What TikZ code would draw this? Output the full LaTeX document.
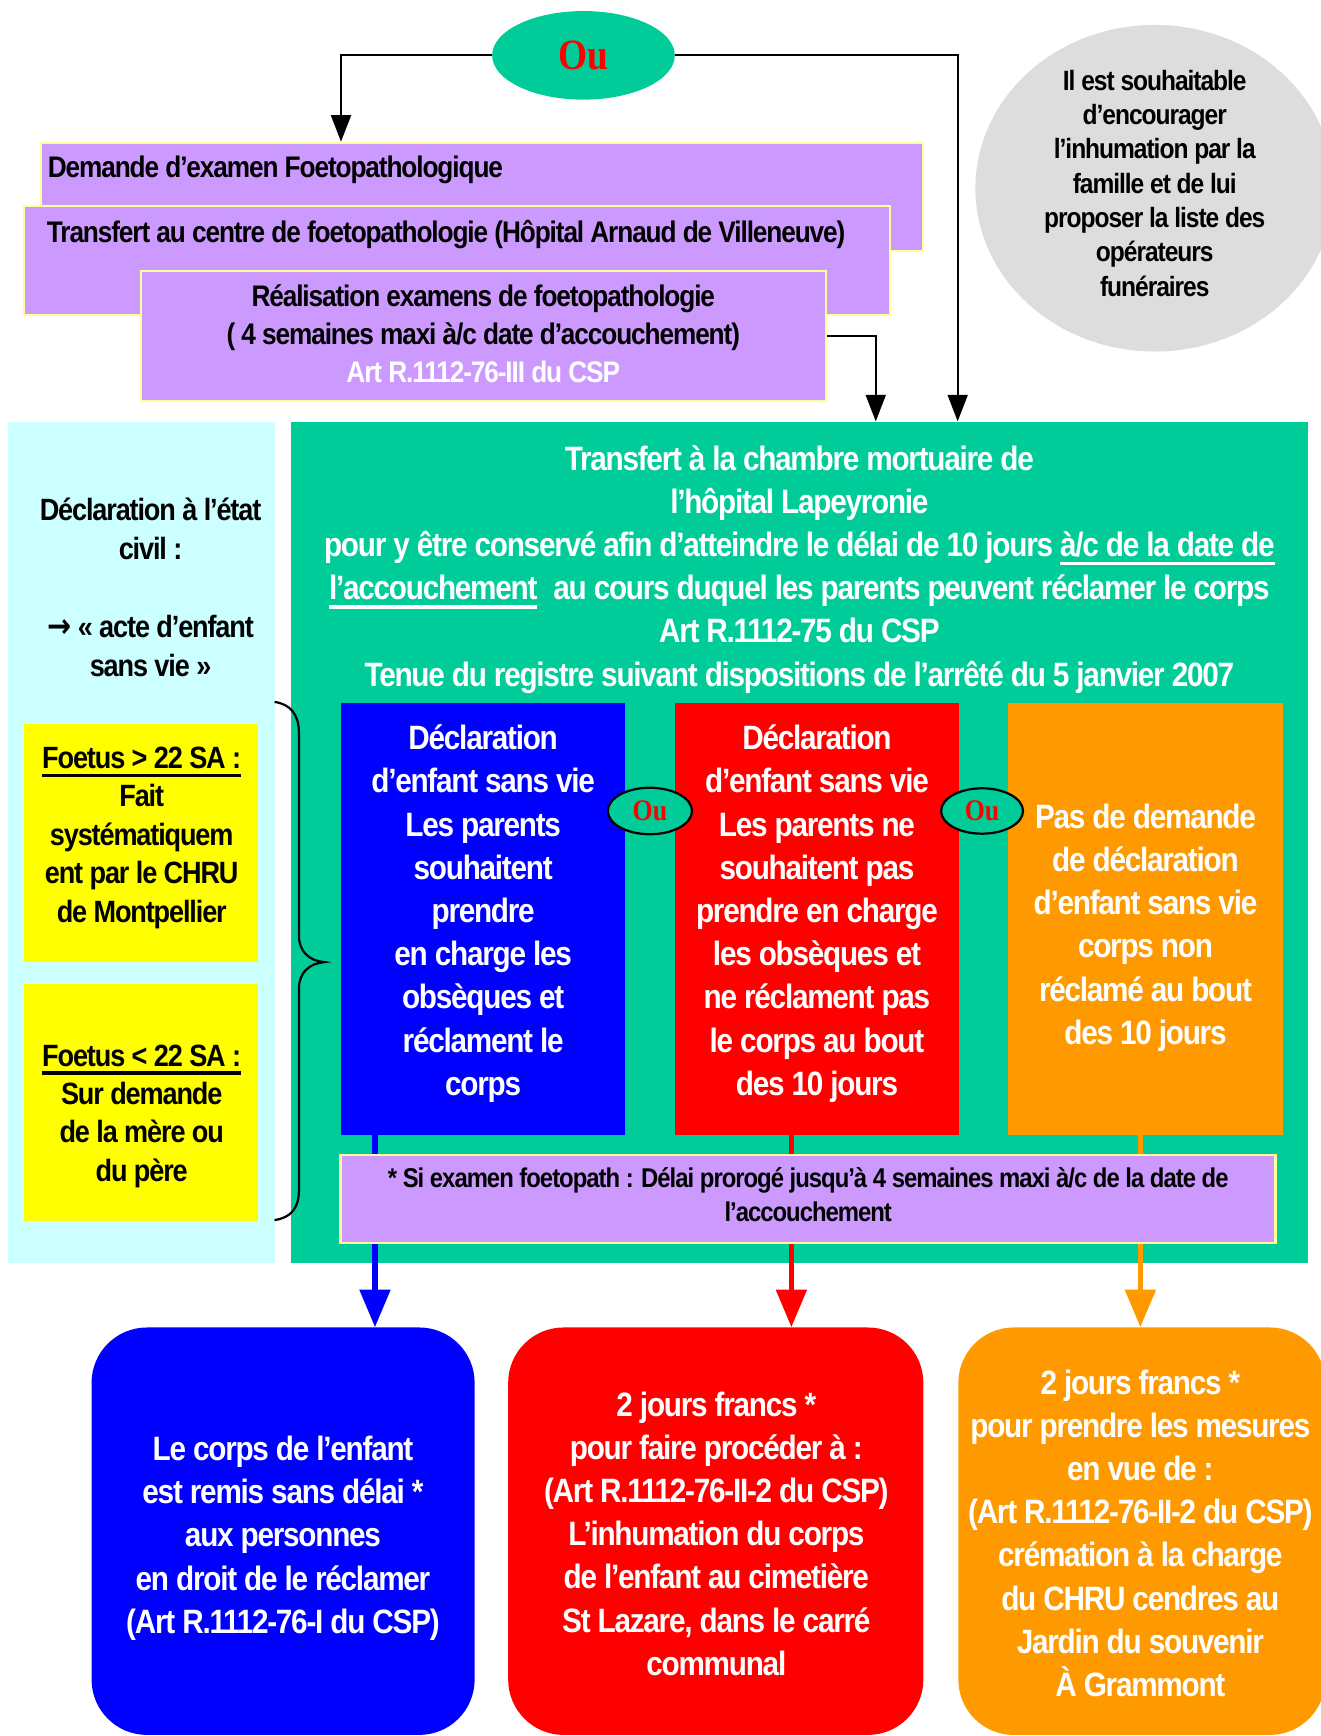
\documentclass[tikz,border=0pt]{standalone}
\usepackage{fontspec}
\setmainfont{Liberation Sans}[FakeStretch=0.88,LetterSpace=-3.7]
\newfontfamily\oufont{Liberation Serif}[FakeStretch=0.866]
\newfontfamily\arrowfont{DejaVu Sans}[FakeStretch=0.866]
\usetikzlibrary{arrows.meta,shapes.geometric,fit}
\definecolor{cgreen}{HTML}{00CC99}
\definecolor{ccyan}{HTML}{CCFFFF}
\definecolor{clav}{HTML}{CC99FF}
\definecolor{cborder}{HTML}{FFFF99}
\definecolor{cyellow}{HTML}{FFFF00}
\definecolor{cblue}{HTML}{0000FF}
\definecolor{cred}{HTML}{FF0000}
\definecolor{corange}{HTML}{FF9900}
\definecolor{cgray}{HTML}{DDDDDD}
\newsavebox\ulbox
\newcommand\myul[1]{\sbox\ulbox{#1}\rlap{\rule[-8pt]{\wd\ulbox}{3.5pt}}\usebox\ulbox}
\begin{document}
\begin{tikzpicture}[x=1pt,y=1pt,
  lav/.style={rectangle, draw=cborder, line width=2pt, fill=clav, inner sep=0pt},
  panel/.style={rectangle, inner sep=0pt, draw=none},
  rbox/.style={rectangle, rounded corners=50pt, inner sep=0pt, draw=none},
  ouell/.style={ellipse, fill=cgreen, inner sep=0pt, text=cred, font=\oufont\bfseries\fontsize{39}{39}\selectfont},
  smallou/.style={ellipse, fill=cgreen, draw=black, line width=2pt, inner sep=0pt, text=cred, font=\oufont\bfseries\fontsize{27}{27}\selectfont},
  bigtxt/.style={font=\fontsize{30.5}{39}\selectfont\bfseries, text=white, align=center, inner sep=0pt, anchor=north},
  toptxt/.style={font=\fontsize{26.9}{34}\selectfont\bfseries, text=black, align=center, inner sep=0pt},
  cyantxt/.style={font=\fontsize{27.8}{35.3}\selectfont\bfseries, text=black, align=center, inner sep=0pt, anchor=north},
  yeltxt/.style={font=\fontsize{27.8}{34.7}\selectfont\bfseries, text=black, align=center, inner sep=0pt, anchor=north},
  graytxt/.style={font=\fontsize{25.2}{31}\selectfont\bfseries, text=black, align=center, inner sep=0pt, anchor=north},
  fntxt/.style={font=\fontsize{24.5}{30.5}\selectfont\bfseries, text=black, align=center, inner sep=0pt, anchor=north},
  conn/.style={draw=black, line width=2pt, -{Triangle[length=24pt,width=18pt]}},
  colarr/.style={draw=#1, line width=5pt, -{Triangle[length=34pt,width=27pt]}}
]
\useasboundingbox (0,0) rectangle (1193,-1568);
\clip (0,0) rectangle (1193,-1568);
\fill[white] (0,0) rectangle (1193,-1568);

% top "Ou" and gray note
\node[ouell, minimum width=165pt, minimum height=80pt] (ou) at (527,-50) {Ou};
\node[ellipse, fill=cgray, inner sep=0pt, minimum width=324pt, minimum height=295pt] (note) at (1043,-170) {};
\node[graytxt] (notetxt) at (1043,-59.6) {\strut Il est souhaitable\\d’encourager\\l’inhumation par la\\famille et de lui\\proposer la liste des\\opérateurs\\funéraires\strut};

% top lavender boxes
\node[lav, fit={(37,-129) (834,-226.4)}] (b1) {};
\node[toptxt, anchor=north west] (t1) at (43,-136.2) {\strut Demande d’examen Foetopathologique};
\node[lav, fit={(21.7,-186) (804,-284.5)}] (b2) {};
\node[toptxt, anchor=north west] (t2) at (42.2,-194.7) {\strut Transfert au centre de foetopathologie (Hôpital Arnaud de Villeneuve)};
\node[lav, fit={(127,-244.5) (746,-362)}] (b3) {};
\node[toptxt, anchor=north] (t3) at (436.5,-253.2) {\strut Réalisation examens de foetopathologie\\( 4 semaines maxi à/c date d’accouchement)\\{\color{white}Art R.1112-76-III du CSP}\strut};

% panels
\node[panel, fill=ccyan, fit={(7.3,-380.8) (248,-1141)}] (cyanp) {};
\node[panel, fill=cgreen, fit={(263,-380.8) (1181,-1141)}] (main) {};

\node[bigtxt] (maintxt) at (722,-397.2) {\strut Transfert à la chambre mortuaire de\\l’hôpital Lapeyronie\\pour y être conservé afin d’atteindre le délai de 10 jours \myul{à/c de la date de}\\\myul{l’accouchement}\hspace{8pt} au cours duquel les parents peuvent réclamer le corps\\Art R.1112-75 du CSP\\Tenue du registre suivant dispositions de l’arrêté du 5 janvier 2007\strut};

% black connectors
\draw[conn] (ou.west) -| ([xshift=272pt]b1.north west);
\draw[conn] (ou.east) -| ([xshift=143pt]main.north);
\draw[conn] (b3.east) -| ([xshift=69pt]main.north);

% left side
\node[cyantxt] (cyantext) at (136,-444.9) {\strut Déclaration à l’état\\civil :\\[35.3pt]{\arrowfont\bfseries\fontsize{30}{35.3}\selectfont →} « acte d’enfant\\sans vie »\strut};
\node[panel, fill=cyellow, fit={(21.4,-654) (233,-868.6)}] (y1) {};
\node[yeltxt] (y1txt) at (128,-669.7) {\strut\myul{Foetus > 22 SA :}\\Fait\\systématiquem\\ent par le CHRU\\de Montpellier\strut};
\node[panel, fill=cyellow, fit={(21.4,-889.2) (233,-1102.4)}] (y2) {};
\node[yeltxt] (y2txt) at (128,-938.4) {\strut\myul{Foetus < 22 SA :}\\Sur demande\\de la mère ou\\du père\strut};
\draw[line width=2pt, black] (248,-634) .. controls (262,-636) and (270,-645) .. (270,-662) -- (270,-845) .. controls (270,-860) and (280,-868) .. (293,-869) .. controls (280,-870) and (270,-878) .. (270,-893) -- (270,-1075) .. controls (270,-1092) and (262,-1100) .. (248,-1102);

% column boxes
\node[panel, fill=cblue, fit={(308.4,-634.8) (564.4,-1024.7)}] (bx) {};
\node[panel, fill=cred, fit={(609.8,-634.8) (866,-1024.7)}] (rx) {};
\node[panel, fill=corange, fit={(910.5,-634.8) (1158.7,-1024.7)}] (ox) {};
\node[bigtxt] (bxt) at (436.4,-649.7) {\strut Déclaration\\d’enfant sans vie\\Les parents\\souhaitent\\prendre\\en charge les\\obsèques et\\réclament le\\corps\strut};
\node[bigtxt] (rxt) at (737.9,-649.7) {\strut Déclaration\\d’enfant sans vie\\Les parents ne\\souhaitent pas\\prendre en charge\\les obsèques et\\ne réclament pas\\le corps au bout\\des 10 jours\strut};
\node[bigtxt] (oxt) at (1034.6,-720.7) {\strut Pas de demande\\de déclaration\\d’enfant sans vie\\corps non\\réclamé au bout\\des 10 jours\strut};

% bottom boxes
\node[rbox, fill=cblue, fit={(82.7,-1199) (428.7,-1567)}] (bb) {};
\node[rbox, fill=cred, fit={(459,-1199) (834,-1567)}] (rb) {};
\node[rbox, fill=corange, fit={(865.6,-1199) (1197,-1567)}] (obx) {};
\node[bigtxt] (bbt) at (255.6,-1291.7) {\strut Le corps de l’enfant\\est remis sans délai *\\aux personnes\\en droit de le réclamer\\(Art R.1112-76-I du CSP)\strut};
\node[bigtxt] (rbt) at (647,-1251.7) {\strut 2 jours francs *\\pour faire procéder à :\\(Art R.1112-76-II-2 du CSP)\\L’inhumation du corps\\de l’enfant au cimetière\\St Lazare, dans le carré\\communal\strut};
\node[bigtxt] (obt) at (1030,-1231.7) {\strut 2 jours francs *\\pour prendre les mesures\\en vue de :\\(Art R.1112-76-II-2 du CSP)\\crémation à la charge\\du CHRU cendres au\\Jardin du souvenir\\À Grammont\strut};

% colored arrows
\coordinate (bxo) at ([xshift=-97.7pt]bx.south);
\coordinate (rxo) at ([xshift=-23.1pt]rx.south);
\coordinate (oxo) at ([xshift=-4.6pt]ox.south);
\draw[colarr=cblue] (bxo) -- (bxo |- bb.north);
\draw[colarr=cred] (rxo) -- (rxo |- rb.north);
\draw[colarr=corange] (oxo) -- (oxo |- obx.north);

% footnote
\node[lav, fit={(307.6,-1043.4) (1152,-1122.5)}] (fn) {};
\node[fntxt] (fntext) at (730,-1051.2) {\strut * Si examen foetopath : Délai prorogé jusqu’à 4 semaines maxi à/c de la date de\\l’accouchement\strut};

% small "Ou"
\node[smallou, minimum width=76pt, minimum height=42pt] (ou1) at (587,-732.5) {Ou};
\node[smallou, minimum width=74pt, minimum height=41pt] (ou2) at (887,-732.5) {Ou};
\end{tikzpicture}
\end{document}
